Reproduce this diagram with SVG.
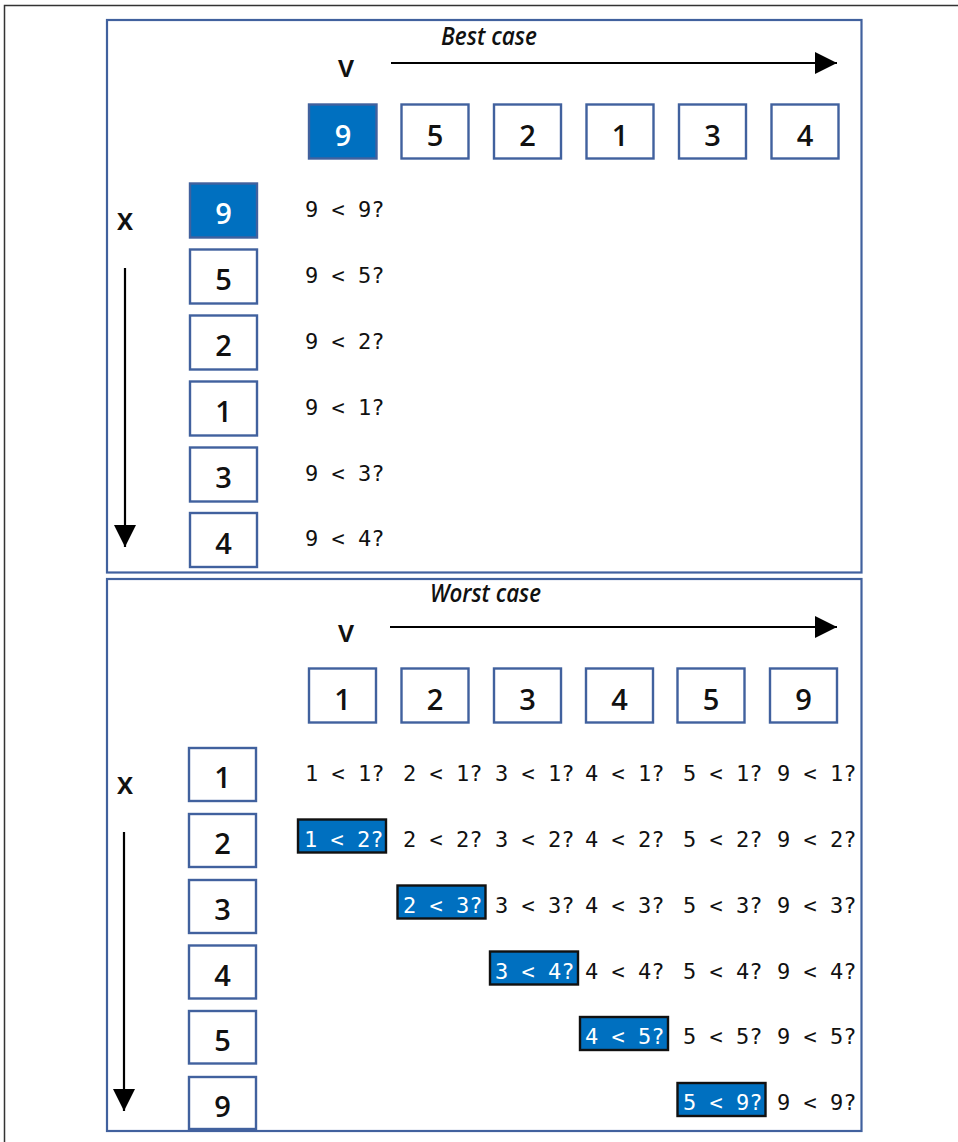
<svg xmlns="http://www.w3.org/2000/svg" width="958" height="1142" viewBox="0 0 958 1142">
<style>
.panel{fill:#fff;stroke:#41619e;stroke-width:2.2}
.box{fill:#fff;stroke:#41619e;stroke-width:2.4}
.boxf{fill:#0070c0;stroke:#41619e;stroke-width:2.4}
.num{font-family:"Open Sans","Liberation Sans",sans-serif;font-weight:600;font-size:29px;fill:#111;text-anchor:middle}
.numw{fill:#fff}
.lab{font-family:"Open Sans","Liberation Sans",sans-serif;font-weight:600;font-size:30px;fill:#111;text-anchor:middle}
.title{font-family:"Open Sans","Liberation Sans",sans-serif;font-style:italic;font-weight:600;font-size:26px;fill:#111}
.cmp{font-family:"DejaVu Sans Mono","Liberation Mono",monospace;font-size:22px;fill:#111}
.cmpw{fill:#fff}
.hl{fill:#0070c0;stroke:#111;stroke-width:2.4}
.arr{stroke:#000;stroke-width:2.2;fill:none}
</style>
<defs>
<marker id="ah" viewBox="0 0 22 22" refX="22" refY="11" markerWidth="22" markerHeight="22" markerUnits="userSpaceOnUse" orient="auto">
<path d="M0,0 L22,11 L0,22 Z" fill="#000"/>
</marker>
</defs>
<rect width="958" height="1142" fill="#fff"/>
<path d="M4.5,1142 V5.5 H958" fill="none" stroke="#333" stroke-width="1.5"/>

<g id="panel-best">
<rect class="panel" x="107" y="20" width="754.5" height="552.5"/>
<text class="title" x="441" y="45" textLength="96" lengthAdjust="spacingAndGlyphs">Best case</text>
<text class="lab" x="346" y="77">v</text>
<text class="lab" x="125" y="230">x</text>
</g>
<g id="panel-worst">
<rect class="panel" x="107" y="579" width="754.5" height="552"/>
<text class="title" x="430" y="602" textLength="111" lengthAdjust="spacingAndGlyphs">Worst case</text>
<text class="lab" x="346" y="642">v</text>
<text class="lab" x="125" y="794">x</text>
</g>

<g id="connectors">
<line class="arr" x1="391" y1="63" x2="837" y2="63" marker-end="url(#ah)"/>
<line class="arr" x1="125" y1="268" x2="125" y2="547" marker-end="url(#ah)"/>
<line class="arr" x1="390" y1="627" x2="837" y2="627" marker-end="url(#ah)"/>
<line class="arr" x1="124" y1="832" x2="124" y2="1111" marker-end="url(#ah)"/>
</g>

<!-- Best case: v row -->
<g id="bv1"><rect class="boxf" x="309" y="104.5" width="67.5" height="54"/><text class="num numw" x="343" y="146">9</text></g>
<g id="bv2"><rect class="box" x="401.5" y="104.5" width="67" height="54"/><text class="num" x="435" y="146">5</text></g>
<g id="bv3"><rect class="box" x="494" y="104.5" width="67" height="54"/><text class="num" x="527.5" y="146">2</text></g>
<g id="bv4"><rect class="box" x="586.5" y="104.5" width="67" height="54"/><text class="num" x="620" y="146">1</text></g>
<g id="bv5"><rect class="box" x="679" y="104.5" width="67" height="54"/><text class="num" x="712.5" y="146">3</text></g>
<g id="bv6"><rect class="box" x="771.5" y="104.5" width="67" height="54"/><text class="num" x="805" y="146">4</text></g>

<!-- Best case: x column -->
<g id="bx1"><rect class="boxf" x="190" y="183.5" width="67" height="54"/><text class="num numw" x="223.5" y="224">9</text></g>
<g id="bx2"><rect class="box" x="190" y="249.5" width="67" height="54"/><text class="num" x="223.5" y="290">5</text></g>
<g id="bx3"><rect class="box" x="190" y="315.5" width="67" height="54"/><text class="num" x="223.5" y="356">2</text></g>
<g id="bx4"><rect class="box" x="190" y="381.5" width="67" height="54"/><text class="num" x="223.5" y="422">1</text></g>
<g id="bx5"><rect class="box" x="190" y="447.5" width="67" height="54"/><text class="num" x="223.5" y="488">3</text></g>
<g id="bx6"><rect class="box" x="190" y="513" width="67" height="54"/><text class="num" x="223.5" y="554">4</text></g>

<g id="best-compares">
<text class="cmp" x="305" y="217">9 &lt; 9?</text>
<text class="cmp" x="305" y="283">9 &lt; 5?</text>
<text class="cmp" x="305" y="349">9 &lt; 2?</text>
<text class="cmp" x="305" y="415">9 &lt; 1?</text>
<text class="cmp" x="305" y="481">9 &lt; 3?</text>
<text class="cmp" x="305" y="546">9 &lt; 4?</text>
</g>

<!-- Worst case: v row -->
<g id="wv1"><rect class="box" x="309" y="668.5" width="67" height="54"/><text class="num" x="342.5" y="710">1</text></g>
<g id="wv2"><rect class="box" x="401.5" y="668.5" width="67" height="54"/><text class="num" x="435" y="710">2</text></g>
<g id="wv3"><rect class="box" x="494" y="668.5" width="67" height="54"/><text class="num" x="527.5" y="710">3</text></g>
<g id="wv4"><rect class="box" x="586" y="668.5" width="67" height="54"/><text class="num" x="619.5" y="710">4</text></g>
<g id="wv5"><rect class="box" x="677.5" y="668.5" width="67" height="54"/><text class="num" x="711" y="710">5</text></g>
<g id="wv6"><rect class="box" x="770" y="668.5" width="67" height="54"/><text class="num" x="803.5" y="710">9</text></g>

<!-- Worst case: x column -->
<g id="wx1"><rect class="box" x="189" y="748" width="67" height="53"/><text class="num" x="222.5" y="788">1</text></g>
<g id="wx2"><rect class="box" x="189" y="814" width="67" height="53"/><text class="num" x="222.5" y="854">2</text></g>
<g id="wx3"><rect class="box" x="189" y="880" width="67" height="53"/><text class="num" x="222.5" y="920">3</text></g>
<g id="wx4"><rect class="box" x="189" y="945.5" width="67" height="53"/><text class="num" x="222.5" y="986">4</text></g>
<g id="wx5"><rect class="box" x="189" y="1011" width="67" height="52.5"/><text class="num" x="222.5" y="1051">5</text></g>
<g id="wx6"><rect class="box" x="189" y="1077" width="67" height="52"/><text class="num" x="222.5" y="1117">9</text></g>

<g id="worst-compares">
<text class="cmp" x="305" y="781">1 &lt; 1?</text>
<text class="cmp" x="403" y="781">2 &lt; 1?</text>
<text class="cmp" x="495" y="781">3 &lt; 1?</text>
<text class="cmp" x="585" y="781">4 &lt; 1?</text>
<text class="cmp" x="683" y="781">5 &lt; 1?</text>
<text class="cmp" x="777" y="781">9 &lt; 1?</text>

<rect class="hl" x="298" y="819.5" width="88" height="33"/>
<text class="cmp cmpw" x="304" y="847">1 &lt; 2?</text>
<text class="cmp" x="403" y="847">2 &lt; 2?</text>
<text class="cmp" x="495" y="847">3 &lt; 2?</text>
<text class="cmp" x="585" y="847">4 &lt; 2?</text>
<text class="cmp" x="683" y="847">5 &lt; 2?</text>
<text class="cmp" x="777" y="847">9 &lt; 2?</text>

<rect class="hl" x="397.5" y="885.5" width="88" height="33"/>
<text class="cmp cmpw" x="403" y="913">2 &lt; 3?</text>
<text class="cmp" x="495" y="913">3 &lt; 3?</text>
<text class="cmp" x="585" y="913">4 &lt; 3?</text>
<text class="cmp" x="683" y="913">5 &lt; 3?</text>
<text class="cmp" x="777" y="913">9 &lt; 3?</text>

<rect class="hl" x="490" y="951.5" width="88" height="33"/>
<text class="cmp cmpw" x="495" y="979">3 &lt; 4?</text>
<text class="cmp" x="585" y="979">4 &lt; 4?</text>
<text class="cmp" x="683" y="979">5 &lt; 4?</text>
<text class="cmp" x="777" y="979">9 &lt; 4?</text>

<rect class="hl" x="580" y="1017" width="88" height="33"/>
<text class="cmp cmpw" x="585" y="1044">4 &lt; 5?</text>
<text class="cmp" x="683" y="1044">5 &lt; 5?</text>
<text class="cmp" x="777" y="1044">9 &lt; 5?</text>

<rect class="hl" x="677.5" y="1083" width="88" height="33"/>
<text class="cmp cmpw" x="683" y="1110">5 &lt; 9?</text>
<text class="cmp" x="777" y="1110">9 &lt; 9?</text>
</g>
</svg>
